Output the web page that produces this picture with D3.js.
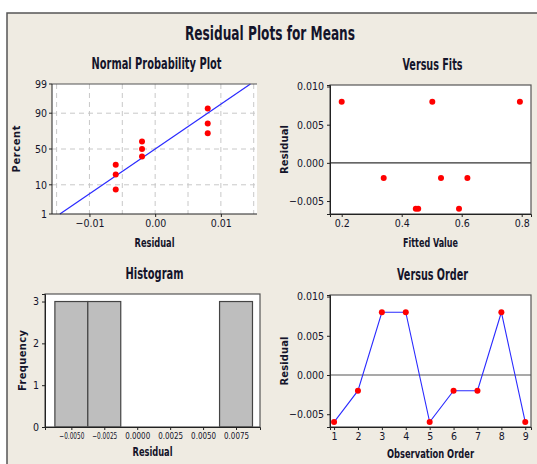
<!DOCTYPE html>
<html>
<head>
<meta charset="utf-8">
<script src="https://cdn.jsdelivr.net/npm/d3@7"></script>
<style>
body { margin: 0; background: #fff; }
svg { display: block; }
text { font-family: "DejaVu Sans Condensed", "Liberation Sans Narrow", "Liberation Sans", sans-serif; fill: #14142a; }
.ttl { font-weight: bold; }
</style>
</head>
<body>
<svg width="537" height="464"></svg>
<script>
// residuals in observation order
const order = [1, 2, 3, 4, 5, 6, 7, 8, 9];
const residuals = [-0.006, -0.002, 0.008, 0.008, -0.006, -0.002, -0.002, 0.008, -0.006];
const fitted = [0.447, 0.34, 0.2, 0.502, 0.455, 0.531, 0.619, 0.794, 0.591];
// normal plot: sorted residuals and their percents
const sortedRes = [-0.006, -0.006, -0.006, -0.002, -0.002, -0.002, 0.008, 0.008, 0.008];
const percents = [7.4, 18.1, 28.7, 39.4, 50, 60.6, 71.3, 81.9, 92.6];
const pctTicks = [1, 10, 50, 90, 99];
const fitLine = [[-0.0145, 1], [0.0145, 99]];
// histogram
const binEdges = [-0.00625, -0.00375, -0.00125, 0.00125, 0.00375, 0.00625, 0.00875];
const counts = [3, 3, 0, 0, 0, 3];

const svg = d3.select('svg');

// background frame
svg.append('rect').attr('x', 7).attr('y', 13).attr('width', 540).attr('height', 460)
  .attr('fill', '#efebe2').attr('stroke', '#555').attr('stroke-width', 1.5);

svg.append('text').attr('class', 'ttl').attr('x', 270).attr('y', 40)
  .attr('text-anchor', 'middle').style('font-size', '20px')
  .attr('textLength', 170).attr('lengthAdjust', 'spacingAndGlyphs').text('Residual Plots for Means');

// helper to draw a panel frame + titles
function panel(x0, x1, y0, y1, title, xlab, ylab, ylabX, xlabY, w) {
  const g = svg.append('g');
  g.append('rect').attr('x', x0).attr('y', y0).attr('width', x1 - x0).attr('height', y1 - y0)
    .attr('fill', '#fff');
  g.append('text').attr('class', 'ttl').attr('x', (x0 + x1) / 2 + 2).attr('y', y0 - 15)
    .attr('text-anchor', 'middle').style('font-size', '15px')
    .attr('textLength', w[0]).attr('lengthAdjust', 'spacingAndGlyphs').text(title);
  g.append('text').attr('class', 'ttl').attr('x', (x0 + x1) / 2).attr('y', xlabY)
    .attr('text-anchor', 'middle').style('font-size', '13px')
    .attr('textLength', w[1]).attr('lengthAdjust', 'spacingAndGlyphs').text(xlab);
  g.append('text').attr('class', 'ttl')
    .attr('transform', 'translate(' + ylabX + ',' + (y0 + y1) / 2 + ') rotate(-90)')
    .attr('text-anchor', 'middle').style('font-size', '11px')
    .attr('textLength', w[2]).attr('lengthAdjust', 'spacing').text(ylab);
  return g;
}

function frame(g, x0, x1, y0, y1) {
  g.append('rect').attr('x', x0).attr('y', y0).attr('width', x1 - x0).attr('height', y1 - y0)
    .attr('fill', 'none').attr('stroke', '#555').attr('stroke-width', 1.2);
}

function styleAxis(a) {
  a.select('.domain').attr('stroke', '#222');
  a.selectAll('.tick line').attr('stroke', '#222');
  a.selectAll('.tick text').style('font-size', '10.5px').attr('fill', '#14142a');
}

// ---------- Normal probability plot ----------
{
  const x0 = 52, x1 = 257, y0 = 84, y1 = 214;
  const g = panel(x0, x1, y0, y1, 'Normal Probability Plot', 'Residual', 'Percent', 20, 247, [130, 40, 47]);
  const xs = d3.scaleLinear().domain([-0.0157, 0.0155]).range([x0, x1]);
  const zs = d3.scaleLinear().domain([-2.3263, 2.3263]).range([y1, y0]);
  const probit = p => {
    // inverse normal cdf (Acklam approximation) for the probability axis
    const a = [-39.6968302866538, 220.946098424521, -275.928510446969, 138.357751867269, -30.6647980661472, 2.50662827745924];
    const b = [-54.4760987982241, 161.585836858041, -155.698979859887, 66.8013118877197, -13.2806815528857];
    const c = [-0.00778489400243029, -0.322396458041136, -2.40075827716184, -2.54973253934373, 4.37466414146497, 2.93816398269878];
    const d = [0.00778469570904146, 0.32246712907004, 2.445134137143, 3.75440866190742];
    const pl = 0.02425;
    let q, r;
    if (p < pl) {
      q = Math.sqrt(-2 * Math.log(p));
      return (((((c[0] * q + c[1]) * q + c[2]) * q + c[3]) * q + c[4]) * q + c[5]) / ((((d[0] * q + d[1]) * q + d[2]) * q + d[3]) * q + 1);
    } else if (p <= 1 - pl) {
      q = p - 0.5; r = q * q;
      return (((((a[0] * r + a[1]) * r + a[2]) * r + a[3]) * r + a[4]) * r + a[5]) * q / (((((b[0] * r + b[1]) * r + b[2]) * r + b[3]) * r + b[4]) * r + 1);
    }
    q = Math.sqrt(-2 * Math.log(1 - p));
    return -(((((c[0] * q + c[1]) * q + c[2]) * q + c[3]) * q + c[4]) * q + c[5]) / ((((d[0] * q + d[1]) * q + d[2]) * q + d[3]) * q + 1);
  };
  const ys = p => zs(probit(p / 100));

  // dashed grid
  g.selectAll('.vg').data([-0.015, -0.01, -0.005, 0, 0.005, 0.01, 0.015]).enter().append('line')
    .attr('x1', d => xs(d)).attr('x2', d => xs(d)).attr('y1', y0).attr('y2', y1)
    .attr('stroke', '#c8c8c8').attr('stroke-dasharray', '5,4');
  g.selectAll('.hg').data([10, 50, 90]).enter().append('line')
    .attr('x1', x0).attr('x2', x1).attr('y1', d => ys(d)).attr('y2', d => ys(d))
    .attr('stroke', '#c8c8c8').attr('stroke-dasharray', '5,4');

  g.append('line').attr('x1', xs(fitLine[0][0])).attr('y1', ys(fitLine[0][1]))
    .attr('x2', xs(fitLine[1][0])).attr('y2', ys(fitLine[1][1]))
    .attr('stroke', '#2a2aff').attr('stroke-width', 1.2);

  g.selectAll('.pt').data(sortedRes).enter().append('circle')
    .attr('cx', d => xs(d)).attr('cy', (d, i) => ys(percents[i])).attr('r', 3).attr('fill', '#f00');

  g.append('line').attr('x1', x0).attr('x2', x1).attr('y1', y0).attr('y2', y0).attr('stroke', '#555').attr('stroke-width', 1.2);
  const ax = g.append('g').attr('transform', 'translate(0,' + y1 + ')')
    .call(d3.axisBottom(xs).tickValues([-0.01, 0, 0.01]).tickFormat(d3.format('.2f')).tickSize(3));
  styleAxis(ax);
  ax.select('.domain').attr('d', 'M' + x0 + ',0H' + x1);
  g.append('line').attr('x1', x0).attr('x2', x0).attr('y1', y0).attr('y2', y1).attr('stroke', '#222');
  g.selectAll('.pl').data(pctTicks).enter().append('text')
    .attr('x', x0 - 5).attr('y', d => ys(d) + 4).attr('text-anchor', 'end').style('font-size', '10.5px').text(d => d);
  g.selectAll('.plt').data(pctTicks).enter().append('line')
    .attr('x1', x0 - 3).attr('x2', x0).attr('y1', d => ys(d)).attr('y2', d => ys(d)).attr('stroke', '#222');
}

// ---------- Versus Fits ----------
{
  const x0 = 330, x1 = 531, y0 = 85, y1 = 214;
  const g = panel(x0, x1, y0, y1, 'Versus Fits', 'Fitted Value', 'Residual', 288, 247, [60, 55, 49]);
  const xs = d3.scaleLinear().domain([0.161, 0.831]).range([x0, x1]);
  const ys = d3.scaleLinear().domain([-0.0067, 0.0102]).range([y1, y0]);
  g.append('line').attr('x1', x0).attr('x2', x1).attr('y1', ys(0)).attr('y2', ys(0)).attr('stroke', '#333').attr('stroke-width', 1.2);
  g.selectAll('.pt').data(fitted).enter().append('circle')
    .attr('cx', d => xs(d)).attr('cy', (d, i) => ys(residuals[i])).attr('r', 3).attr('fill', '#f00');
  frame(g, x0, x1, y0, y1);
  const ax = g.append('g').attr('transform', 'translate(0,' + y1 + ')')
    .call(d3.axisBottom(xs).tickValues([0.2, 0.4, 0.6, 0.8]).tickFormat(d3.format('.1f')).tickSize(3));
  styleAxis(ax);
  const ay = g.append('g').attr('transform', 'translate(' + x0 + ',0)')
    .call(d3.axisLeft(ys).tickValues([-0.005, 0, 0.005, 0.01]).tickFormat(d3.format('.3f')).tickSize(3));
  styleAxis(ay);
}

// ---------- Histogram ----------
{
  const x0 = 45, x1 = 260, y0 = 294, y1 = 427;
  const g = panel(x0, x1, y0, y1, 'Histogram', 'Residual', 'Frequency', 26, 456, [58, 40, 61]);
  const xs = d3.scaleLinear().domain([-0.0070, 0.00932]).range([x0, x1]);
  const ys = d3.scaleLinear().domain([0, 3.18]).range([y1, y0]);
  g.selectAll('.bar').data(counts).enter().append('rect')
    .attr('x', (d, i) => xs(binEdges[i])).attr('width', (d, i) => xs(binEdges[i + 1]) - xs(binEdges[i]))
    .attr('y', d => ys(d)).attr('height', d => ys(0) - ys(d))
    .attr('fill', '#bebebe').attr('stroke', '#444').attr('stroke-width', 1.2);
  frame(g, x0, x1, y0, y1);
  const ax = g.append('g').attr('transform', 'translate(0,' + y1 + ')')
    .call(d3.axisBottom(xs).tickValues([-0.005, -0.0025, 0, 0.0025, 0.005, 0.0075]).tickFormat(d3.format('.4f')).tickSize(3));
  styleAxis(ax);
  ax.selectAll('.tick text').style('font-size', '9px').attr('textLength', 25).attr('lengthAdjust', 'spacingAndGlyphs');
  const ay = g.append('g').attr('transform', 'translate(' + x0 + ',0)')
    .call(d3.axisLeft(ys).tickValues([0, 1, 2, 3]).tickFormat(d3.format('d')).tickSize(3));
  styleAxis(ay);
}

// ---------- Versus Order ----------
{
  const x0 = 330, x1 = 531, y0 = 295, y1 = 427;
  const g = panel(x0, x1, y0, y1, 'Versus Order', 'Observation Order', 'Residual', 288, 458, [71, 87, 49]);
  const xs = d3.scaleLinear().domain([0.83, 9.24]).range([x0, x1]);
  const ys = d3.scaleLinear().domain([-0.00663, 0.0102]).range([y1, y0]);
  g.append('line').attr('x1', x0).attr('x2', x1).attr('y1', ys(0)).attr('y2', ys(0)).attr('stroke', '#555').attr('stroke-width', 1.2);
  g.append('path').datum(residuals)
    .attr('d', d3.line().x((d, i) => xs(order[i])).y(d => ys(d)))
    .attr('fill', 'none').attr('stroke', '#2a2aff').attr('stroke-width', 1.1);
  g.selectAll('.pt').data(residuals).enter().append('circle')
    .attr('cx', (d, i) => xs(order[i])).attr('cy', d => ys(d)).attr('r', 3).attr('fill', '#f00');
  frame(g, x0, x1, y0, y1);
  const ax = g.append('g').attr('transform', 'translate(0,' + y1 + ')')
    .call(d3.axisBottom(xs).tickValues(order).tickFormat(d3.format('d')).tickSize(3));
  styleAxis(ax);
  const ay = g.append('g').attr('transform', 'translate(' + x0 + ',0)')
    .call(d3.axisLeft(ys).tickValues([-0.005, 0, 0.005, 0.01]).tickFormat(d3.format('.3f')).tickSize(3));
  styleAxis(ay);
}

svg.selectAll('.tick text').style('font-family', '"DejaVu Sans Condensed", "Liberation Sans Narrow", sans-serif');
</script>
</body>
</html>
